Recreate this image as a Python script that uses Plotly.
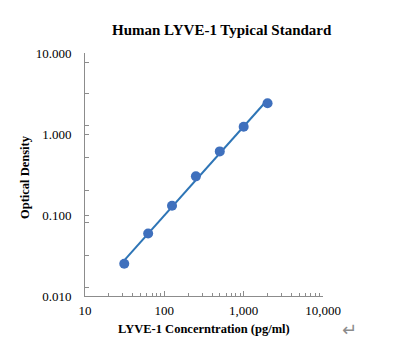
import numpy as np
import plotly.graph_objects as go

concentration = [31.25, 62.5, 125, 250, 500, 1000, 2000]
optical_density = [0.025, 0.059, 0.130, 0.300, 0.610, 1.230, 2.400]

x_tick_vals = [10, 100, 1000, 10000]
x_tick_text = ["10", "100", "1,000", "10,000"]
y_tick_vals = [0.01, 0.1, 1, 10]
y_tick_text = ["0.010", "0.100", "1.000", "10.000"]
y_minor_vals = [0.0126, 0.032, 0.08, 0.198, 0.506, 1.26, 3.12, 7.74]

# power trendline fitted on log-log data
lx = np.log10(concentration)
ly = np.log10(optical_density)
slope, intercept = np.polyfit(lx, ly, 1)
fit_x = np.array([concentration[0], concentration[-1]])
fit_y = 10 ** (intercept + slope * np.log10(fit_x))

serif = "Liberation Serif"

# page body has an 8px offset
W, H = 386, 348
L, R, T, B = 77, 71, 45, 60
PW, PH = W - L - R, H - T - B


def px(xp):
    return (xp - 8 - L) / PW


def py(yp):
    return (H - B - (yp - 8)) / PH


fig = go.Figure()
fig.add_trace(go.Scatter(x=fit_x, y=fit_y, mode="lines",
                         line=dict(color="#2E75B6", width=2), hoverinfo="skip"))
fig.add_trace(go.Scatter(x=concentration, y=optical_density, mode="markers",
                         marker=dict(color="#3F70BD", size=10, line=dict(width=0))))

yvals = y_tick_vals + y_minor_vals
ytext = y_tick_text + [""] * len(y_minor_vals)

fig.update_layout(
    width=W, height=H,
    margin=dict(l=L, r=R, t=T, b=B),
    paper_bgcolor="white", plot_bgcolor="white",
    showlegend=False,
    font=dict(family=serif, color="#000000", size=13),
    xaxis=dict(type="log", range=[1, 4], tickvals=x_tick_vals, ticktext=x_tick_text,
               showgrid=False, zeroline=False, showline=True, linecolor="#8c8c8c",
               linewidth=1, ticks="inside", ticklen=5, tickcolor="#8c8c8c",
               ticklabelstandoff=2,
               minor=dict(ticks="inside", ticklen=3, tickcolor="#8c8c8c",
                          tickvals=[v * d for d in (10, 100, 1000) for v in range(2, 10)]),
               tickfont=dict(family=serif, size=13), fixedrange=True),
    yaxis=dict(type="log", range=[-2, 1], tickvals=yvals, ticktext=ytext,
               showgrid=False, zeroline=False, showline=True, linecolor="#8c8c8c",
               linewidth=1, ticks="inside", ticklen=4, tickcolor="#8c8c8c",
               ticklabelstandoff=10,
               tickfont=dict(family=serif, size=13), fixedrange=True),
    annotations=[
        dict(text="<b>Human LYVE-1 Typical Standard</b>", xref="paper", yref="paper",
             x=px(222), y=py(30), xanchor="center", yanchor="middle",
             showarrow=False, font=dict(family=serif, size=15, color="#000")),
        dict(text="<b>LYVE-1 Concerntration (pg/ml)</b>", xref="paper", yref="paper",
             x=px(204), y=py(329), xanchor="center", yanchor="middle",
             showarrow=False, font=dict(family=serif, size=12.5, color="#000")),
        dict(text="<b>Optical Density</b>", xref="paper", yref="paper",
             x=px(25), y=py(177), xanchor="center", yanchor="middle",
             textangle=-90, showarrow=False, font=dict(family=serif, size=12.5, color="#000")),
        dict(text="↵", xref="paper", yref="paper",
             x=px(349), y=py(329), xanchor="center", yanchor="middle",
             showarrow=False, font=dict(family="DejaVu Sans", size=18, color="#8c8c8c")),
    ],
)

fig.write_html("out.html")
